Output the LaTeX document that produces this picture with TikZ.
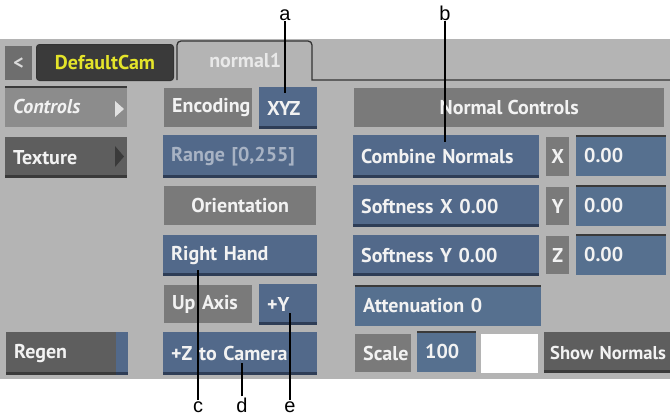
\documentclass[tikz,border=0pt]{standalone}
\usepackage{fontspec}
\newfontfamily\uifont{PT Sans}
\newfontfamily\lblfont{Liberation Sans}
\definecolor{bg}{HTML}{B4B4B4}
\definecolor{labgray}{HTML}{7A7A7A}
\definecolor{btnblue}{HTML}{52698A}
\definecolor{blueshadow}{HTML}{2E3D56}
\definecolor{fieldblue}{HTML}{56708F}
\definecolor{darkbtn}{HTML}{5E5E5E}
\definecolor{darkshadow}{HTML}{3A3A3A}
\definecolor{ctrlgray}{HTML}{8C8C8C}
\definecolor{tabdark}{HTML}{3A3A3A}
\definecolor{tabline}{HTML}{333333}
\definecolor{camyellow}{HTML}{E4E42A}
\definecolor{uitext}{HTML}{F2F2F2}
\definecolor{dimtext}{HTML}{A8B3C4}
\definecolor{backgray}{HTML}{6E6E6E}
\tikzset{
  uibase/.style={anchor=north west, inner xsep=8pt, inner ysep=0pt, text=uitext,
    font=\uifont\bfseries\fontsize{20}{20}\selectfont},
  leftal/.style={align=left},
  centred/.style={align=center, inner xsep=0pt},
  graylab/.style={uibase, fill=labgray},
  bluebtn/.style={uibase, fill=btnblue, path picture={
      \fill[blueshadow] ([yshift=3pt]path picture bounding box.south west) rectangle (path picture bounding box.south east);}},
  fieldbox/.style={uibase, fill=fieldblue, path picture={
      \fill[darkshadow] ([yshift=-2pt]path picture bounding box.north west) rectangle (path picture bounding box.north east);}},
  darkbox/.style={uibase, fill=darkbtn, path picture={
      \fill[darkshadow] ([yshift=3pt]path picture bounding box.south west) rectangle (path picture bounding box.south east);}},
  ctrlbox/.style={uibase, fill=ctrlgray, path picture={
      \fill[darkshadow] ([yshift=-2pt]path picture bounding box.north west) rectangle (path picture bounding box.north east);}},
  whitebox/.style={uibase, fill=white},
  tabedge/.style={draw=tabline, line width=1.3pt},
  leader/.style={draw=black, line width=1.2pt},
  lbl/.style={font=\lblfont\fontsize{20}{20}\selectfont, inner sep=0pt, text=black},
}
% name, style, x, y, w, h, text  (left aligned)
\newcommand\uibtn[7]{%
  \pgfmathsetmacro\uiw{#5-16}%
  \node[#2, leftal, text width=\uiw pt, minimum height=#6pt] (#1) at (#3,#4) {#7};}
% name, style, x, y, w, h, text  (centred)
\newcommand\uibox[7]{%
  \node[#2, centred, minimum width=#5pt, minimum height=#6pt] (#1) at (#3,#4) {#7};}
\begin{document}
\begin{tikzpicture}[x=1pt,y=-1pt]
\useasboundingbox (0,0) rectangle (670,418);
\clip (0,0) rectangle (670,418);
\fill[bg] (0,39) rectangle (670,379);

% tabs
\uibox{back}{uibase, fill=backgray, text=uitext!80!gray}{5}{46}{27}{34}{<}
\node[uibase, centred, fill=tabdark, draw=tabline, line width=1pt, rounded corners=3pt,
  minimum width=137pt, minimum height=36pt, text=camyellow] (cam) at (36,44) {DefaultCam};
\draw[tabedge] (177,80) [rounded corners=4pt] -- (177,41) -- (312,41) [sharp corners] -- (312,80) -- (670,80);
\uibox{normtab}{uibase, text=uitext!92!gray}{178}{42}{134}{37}{normal1}

% left column
\uibtn{controls}{ctrlbox}{5}{86}{122}{41}{\itshape Controls}
\fill[uitext!85!gray] (115,101) -- (124,109) -- (115,117) -- cycle;
\uibtn{texture}{darkbox}{5}{137}{122}{41}{Texture}
\fill[darkshadow] (115,146) -- (124,156.5) -- (115,167) -- cycle;
\uibtn{regen}{darkbox}{6}{332}{110}{43}{Regen}
\fill[btnblue] (116,332) rectangle (128,375);
\fill[blueshadow] (116,372) rectangle (128,375);

% middle column
\uibtn{encoding}{graylab}{164}{88}{88}{39}{Encoding}
\uibtn{xyz}{bluebtn}{259}{87}{58}{42}{XYZ}
\uibtn{range}{bluebtn, text=dimtext}{163}{135}{154}{43}{Range [0,255]}
\uibox{orient}{graylab}{164}{186}{152}{39}{Orientation}
\uibtn{righthand}{bluebtn}{163}{235}{154}{41}{Right Hand}
\uibtn{upaxis}{graylab}{164}{285}{88}{38}{Up Axis}
\uibtn{plusy}{bluebtn}{259}{284}{58}{41}{+Y}
\uibtn{tocam}{bluebtn}{163}{332}{154}{43}{+Z to Camera}

% right column
\uibox{normctl}{graylab}{354}{88}{310}{39}{Normal Controls}
\uibtn{combine}{bluebtn}{353}{135}{186}{43}{Combine Normals}
\uibox{xl}{graylab}{546}{137}{23}{39}{X}
\uibtn{xf}{fieldbox}{576}{135}{90}{41}{0.00}
\uibtn{softx}{bluebtn}{353}{185}{186}{42}{Softness X 0.00}
\uibox{yl}{graylab}{546}{187}{23}{38}{Y}
\uibtn{yf}{fieldbox}{576}{185}{90}{41}{0.00}
\uibtn{softy}{bluebtn}{353}{235}{186}{41}{Softness Y 0.00}
\uibox{zl}{graylab}{546}{236}{23}{38}{Z}
\uibtn{zf}{fieldbox}{576}{234}{90}{41}{0.00}
\uibtn{atten}{fieldbox}{355}{285}{186}{41}{Attenuation 0}
\uibtn{scale}{graylab}{355}{334}{56}{38}{Scale}
\uibtn{hundred}{fieldbox}{417}{331}{59}{41}{100}
\uibox{swatch}{whitebox}{481}{334}{57}{39}{}
\uibtn{shownorm}{darkbox, inner xsep=6pt, font=\uifont\bfseries\fontsize{18.6}{19}\selectfont}{544}{332}{150}{41}{Show Normals}

% callouts
\node[lbl, anchor=base] (la) at (285,20) {a};
\node[lbl, anchor=base] (lb) at (445,20) {b};
\node[lbl, anchor=base] (lc) at (198,412) {c};
\node[lbl, anchor=base] (ld) at (242,412) {d};
\node[lbl, anchor=base] (le) at (290,412) {e};
\coordinate (pa) at (285,93);
\coordinate (pb) at (445,142);
\coordinate (pc) at (198,270);
\coordinate (pd) at (242,363);
\coordinate (pe) at (290,313);
\draw[leader] ([yshift=-1pt]la.south) -- (pa);
\draw[leader] ([yshift=-1pt]lb.south) -- (pb);
\draw[leader] ([yshift=1pt]lc.north) -- (pc);
\draw[leader] ([yshift=1pt]ld.north) -- (pd);
\draw[leader] ([yshift=1pt]le.north) -- (pe);
\end{tikzpicture}
\end{document}
